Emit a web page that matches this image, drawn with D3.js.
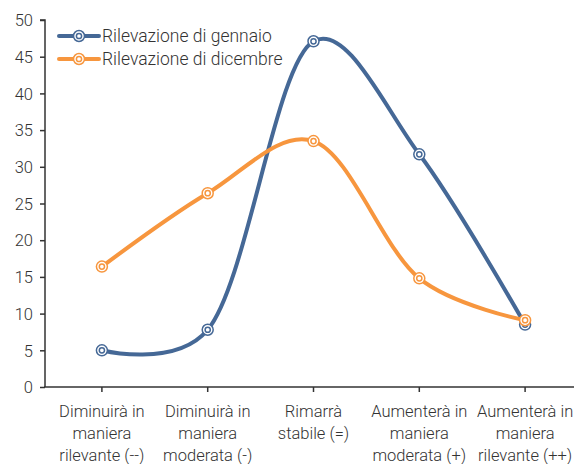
<!DOCTYPE html>
<html>
<head>
<meta charset="utf-8">
<script src="https://cdn.jsdelivr.net/npm/d3@7"></script>
<style>
  body { margin: 0; background: #fff; }
  text { font-family: Roboto, "Noto Sans", sans-serif; font-weight: 300; fill: #333; }
</style>
</head>
<body>
<svg id="chart" width="574" height="464"></svg>
<script>
const categories = [
  ["Diminuirà in", "maniera", "rilevante (--)"],
  ["Diminuirà in", "maniera", "moderata (-)"],
  ["Rimarrà", "stabile (=)"],
  ["Aumenterà in", "maniera", "moderata (+)"],
  ["Aumenterà in", "maniera", "rilevante (++)"]
];
const seriesNames = ["Rilevazione di gennaio", "Rilevazione di dicembre"];
const january = [5.0, 7.8, 47.1, 31.7, 8.5];
const december = [16.4, 26.4, 33.5, 14.8, 9.1];
const yTicks = [0, 5, 10, 15, 20, 25, 30, 35, 40, 45, 50];
const colors = ["#456896", "#F7963E"];

const svg = d3.select("#chart");

const xScale = d3.scalePoint()
  .domain(d3.range(categories.length))
  .range([49, 578])
  .padding(0.5);

const yScale = d3.scaleLinear()
  .domain([0, 50])
  .range([387, 20]);

//Y axis
const yAxis = svg.append("g")
  .attr("transform", "translate(45,0)")
  .call(d3.axisLeft(yScale).tickValues(yTicks).tickSize(5).tickPadding(7));
yAxis.selectAll("text").style("font-size", "16.5px").attr("dy", "0.35em");
yAxis.selectAll("line, path").attr("stroke", "#333").attr("stroke-width", 1.5);
yAxis.select(".domain").attr("d", "M0,387V20H-5");

//X axis
const xAxis = svg.append("g")
  .attr("transform", "translate(0,387)");
xAxis.append("line")
  .attr("x1", 44).attr("x2", 574)
  .attr("stroke", "#333").attr("stroke-width", 1.5);
xAxis.selectAll(".tick")
  .data(categories)
  .join("line")
    .attr("x1", (d, i) => xScale(i))
    .attr("x2", (d, i) => xScale(i))
    .attr("y1", 0).attr("y2", 5)
    .attr("stroke", "#333").attr("stroke-width", 1.5);
xAxis.selectAll(".label")
  .data(categories)
  .join("text")
    .attr("class", "label")
    .attr("text-anchor", "middle")
    .style("font-size", "16.5px")
    .each(function(d, i) {
      d3.select(this).selectAll("tspan")
        .data(d)
        .join("tspan")
          .attr("x", xScale(i))
          .attr("y", (t, j) => 30 + j * 22)
          .text(t => t);
    });

//Lines
const line = d3.line()
  .x((d, i) => xScale(i))
  .y(d => yScale(d))
  .curve(d3.curveCatmullRom.alpha(0.2));

const allSeries = [january, december];

const drawMarker = (g, x, y, color) => {
  g.append("circle").attr("cx", x).attr("cy", y).attr("r", 5.5)
    .attr("fill", "#fff").attr("stroke", color).attr("stroke-width", 1.5);
  g.append("circle").attr("cx", x).attr("cy", y).attr("r", 2.6)
    .attr("fill", "#fff").attr("stroke", color).attr("stroke-width", 1.5);
};

allSeries.forEach((values, s) => {
  svg.append("path")
    .attr("d", line(values))
    .attr("fill", "none")
    .attr("stroke", colors[s])
    .attr("stroke-width", 4)
    .attr("stroke-linecap", "round");
});

allSeries.forEach((values, s) => {
  const g = svg.append("g");
  values.forEach((v, i) => drawMarker(g, xScale(i), yScale(v), colors[s]));
});

//Legend
const legend = svg.append("g");
seriesNames.forEach((name, s) => {
  const y = 36 + s * 23;
  legend.append("line")
    .attr("x1", 59).attr("x2", 99)
    .attr("y1", y).attr("y2", y)
    .attr("stroke", colors[s]).attr("stroke-width", 4)
    .attr("stroke-linecap", "round");
  drawMarker(legend, 79, y, colors[s]);
  legend.append("text")
    .attr("x", 102).attr("y", y + 6)
    .style("font-size", "17.5px")
    .text(name);
});
</script>
</body>
</html>
